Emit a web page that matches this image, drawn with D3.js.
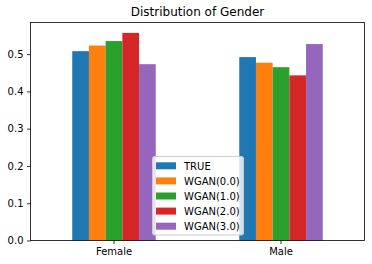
<!DOCTYPE html>
<html>
<head>
<meta charset="utf-8">
<script src="https://cdn.jsdelivr.net/npm/d3@7"></script>
<style>
  body { margin: 0; background: #fff; }
  text { font-family: "DejaVu Sans", sans-serif; fill: #000; }
</style>
</head>
<body>
<svg id="chart" width="372" height="264"></svg>
<script>
var categories = ["Female", "Male"];
var seriesNames = ["TRUE", "WGAN(0.0)", "WGAN(1.0)", "WGAN(2.0)", "WGAN(3.0)"];
var trueVals = [0.508, 0.492];
var wgan0 = [0.523, 0.477];
var wgan1 = [0.535, 0.465];
var wgan2 = [0.557, 0.443];
var wgan3 = [0.473, 0.527];
var yTicks = [0.0, 0.1, 0.2, 0.3, 0.4, 0.5];
var colors = ["#1f77b4", "#ff7f0e", "#2ca02c", "#d62728", "#9467bd"];

var allSeries = [trueVals, wgan0, wgan1, wgan2, wgan3];

// plot area
var plotLeft = 30.5, plotRight = 364.5, plotTop = 22.5, plotBottom = 240.5;

var svg = d3.select("#chart");

var maxVal = d3.max(allSeries, function(s) { return d3.max(s); });

var x = d3.scaleBand()
    .domain(categories)
    .range([plotLeft, plotRight])
    .paddingInner(0.5)
    .paddingOuter(0.25);

var xs = d3.scaleBand()
    .domain(seriesNames)
    .range([0, x.bandwidth()]);

var y = d3.scaleLinear()
    .domain([0, maxVal * 1.05])
    .range([plotBottom, plotTop]);

// title
svg.append("text")
    .attr("x", (plotLeft + plotRight) / 2)
    .attr("y", 16)
    .attr("text-anchor", "middle")
    .style("font-size", "12px")
    .text("Distribution of Gender");

// bars
allSeries.forEach(function(vals, si) {
    svg.append("g").selectAll("rect")
        .data(vals)
        .enter().append("rect")
        .attr("x", function(d, i) { return x(categories[i]) + xs(seriesNames[si]); })
        .attr("y", function(d) { return y(d); })
        .attr("width", xs.bandwidth())
        .attr("height", function(d) { return y(0) - y(d); })
        .attr("fill", colors[si]);
});

// axes
var yAxis = svg.append("g")
    .attr("transform", "translate(" + plotLeft + ",0)")
    .call(d3.axisLeft(y).tickValues(yTicks).tickFormat(d3.format(".1f")).tickSize(3.5).tickPadding(3.5));

var xAxis = svg.append("g")
    .attr("transform", "translate(0," + plotBottom + ")")
    .call(d3.axisBottom(x).tickSize(3.5).tickPadding(3.5));

[xAxis, yAxis].forEach(function(a) {
    a.select(".domain").remove();
    a.selectAll("line").attr("stroke", "#000").attr("stroke-width", 0.8);
    a.selectAll("text").style("font-size", "10px").style("font-family", "DejaVu Sans, sans-serif").attr("fill", "#000");
});

// frame
svg.append("rect")
    .attr("x", plotLeft)
    .attr("y", plotTop)
    .attr("width", plotRight - plotLeft)
    .attr("height", plotBottom - plotTop)
    .attr("fill", "none")
    .attr("stroke", "#000")
    .attr("stroke-width", 0.8);

// legend
var legend = svg.append("g");
legend.append("rect")
    .attr("x", 152.5)
    .attr("y", 156.5)
    .attr("width", 91)
    .attr("height", 78.5)
    .attr("rx", 2)
    .attr("fill", "#fff")
    .attr("fill-opacity", 0.8)
    .attr("stroke", "#cccccc")
    .attr("stroke-width", 1);

var rows = legend.selectAll("g.row")
    .data(seriesNames)
    .enter().append("g")
    .attr("class", "row")
    .attr("transform", function(d, i) { return "translate(0," + (165.8 + i * 15.1) + ")"; });

rows.append("rect")
    .attr("x", 156)
    .attr("y", -3.5)
    .attr("width", 20)
    .attr("height", 7)
    .attr("fill", function(d, i) { return colors[i]; });

rows.append("text")
    .attr("x", 184)
    .attr("y", 3.7)
    .style("font-size", "10px")
    .text(function(d) { return d; });
</script>
</body>
</html>
